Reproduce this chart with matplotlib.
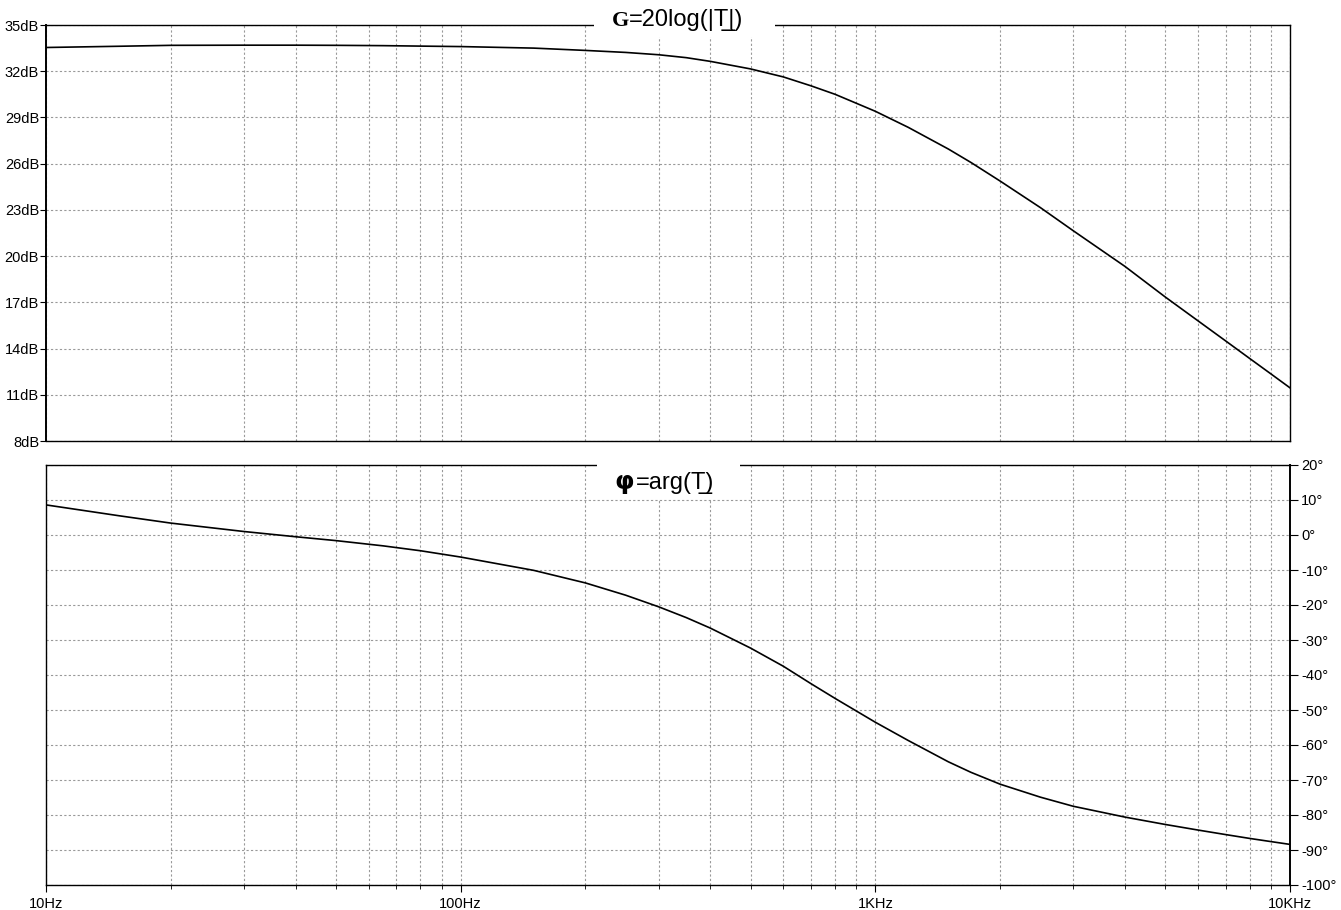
import matplotlib
matplotlib.use('Agg')
import matplotlib.pyplot as plt
from matplotlib.patches import Rectangle
from matplotlib.ticker import FixedLocator, NullFormatter, LogLocator

# data
freq = [10, 15, 20, 30, 40, 50, 65, 80, 100, 150, 200, 250, 300, 350, 400, 500, 600, 700, 800,
        1000, 1200, 1500, 1700, 2000, 2500, 3000, 4000, 5000, 6000, 7000, 8000, 9000, 10000]
gain_db = [33.54, 33.62, 33.68, 33.69, 33.69, 33.68, 33.66, 33.63, 33.6, 33.5, 33.35, 33.22,
           33.07, 32.88, 32.64, 32.15, 31.63, 31.05, 30.5, 29.4, 28.36, 26.95, 26.08, 24.87,
           23.15, 21.65, 19.33, 17.35, 15.8, 14.49, 13.35, 12.35, 11.45]
phase_deg = [8.6, 5.5, 3.4, 1.0, -0.5, -1.6, -3.1, -4.5, -6.3, -10.1, -13.7, -17.2, -20.5,
             -23.6, -26.6, -32.3, -37.5, -42.5, -46.7, -53.5, -58.7, -64.8, -67.8, -71.2,
             -74.9, -77.5, -80.6, -82.7, -84.3, -85.6, -86.7, -87.6, -88.4]

gain_ticks = [8, 11, 14, 17, 20, 23, 26, 29, 32, 35]
gain_labels = ['%ddB' % v for v in gain_ticks]
phase_ticks = [20, 10, 0, -10, -20, -30, -40, -50, -60, -70, -80, -90, -100]
phase_labels = ['%d\u00b0' % v for v in phase_ticks]
freq_ticks = [10, 100, 1000, 10000]
freq_labels = ['10Hz', '100Hz', '1KHz', '10KHz']

plt.rcParams['font.family'] = ['Liberation Sans', 'DejaVu Sans']

fig = plt.figure(figsize=(13.41, 9.10), dpi=100)
ax1 = fig.add_axes([46 / 1341, 1 - 441 / 910, 1244 / 1341, 416 / 910])
ax2 = fig.add_axes([46 / 1341, 1 - 885 / 910, 1244 / 1341, 420 / 910])

grid_kw = dict(color='#999999', linestyle=(0, (2, 2)), linewidth=0.8)

for ax in (ax1, ax2):
    ax.set_xscale('log')
    ax.set_xlim(10, 10000)
    ax.xaxis.set_major_locator(FixedLocator(freq_ticks))
    ax.xaxis.set_minor_locator(LogLocator(base=10, subs=range(2, 10)))
    ax.xaxis.set_minor_formatter(NullFormatter())
    ax.grid(True, which='both', axis='x', **grid_kw)
    ax.grid(True, which='major', axis='y', **grid_kw)
    ax.set_axisbelow(True)
    for s in ax.spines.values():
        s.set_linewidth(1.0)
        s.set_color('black')

# gain panel
ax1.plot(freq, gain_db, color='black', lw=1.2, zorder=3)
ax1.set_ylim(8, 35)
ax1.set_yticks(gain_ticks)
ax1.set_yticklabels(gain_labels)
ax1.spines['left'].set_linewidth(1.4)
ax1.tick_params(axis='y', direction='out', length=4, pad=1, labelsize=10.5)
ax1.tick_params(axis='x', which='both', length=0, labelbottom=False)

ax1.add_patch(Rectangle((0.4405, 0.97), 0.1455, 0.06, transform=ax1.transAxes,
                        facecolor='white', edgecolor='none', clip_on=False, zorder=4))
t = ax1.text(0.455, 0.997, 'G', transform=ax1.transAxes, ha='left', va='baseline',
             fontsize=16, fontweight='bold', family='Liberation Serif', zorder=5, clip_on=False)
ax1.annotate('=20log(|T\u0332|)', xy=(1, 0), xycoords=t, xytext=(0, 0),
             textcoords='offset points', ha='left', va='bottom', fontsize=17, zorder=5,
             annotation_clip=False)

# phase panel
ax2.plot(freq, phase_deg, color='black', lw=1.2, zorder=3)
ax2.set_ylim(-100, 20)
ax2.set_yticks(phase_ticks)
ax2.set_yticklabels(phase_labels)
ax2.yaxis.tick_right()
ax2.spines['right'].set_linewidth(1.4)
ax2.tick_params(axis='y', direction='out', length=6, pad=2, labelsize=10.5)
ax2.set_xticklabels(freq_labels)
ax2.tick_params(axis='x', which='major', direction='out', length=5, pad=4, labelsize=10.5)
ax2.tick_params(axis='x', which='minor', direction='out', length=3)

ax2.add_patch(Rectangle((0.443, 0.92), 0.115, 0.1, transform=ax2.transAxes,
                        facecolor='white', edgecolor='none', clip_on=False, zorder=4))
t2 = ax2.text(0.457, 0.943, '\u03c6', transform=ax2.transAxes, ha='left', va='baseline',
              fontsize=18, fontweight='bold', family='DejaVu Sans', zorder=5, clip_on=False)
ax2.annotate('=arg(T\u0332)', xy=(1, 0), xycoords=t2, xytext=(1, 0),
             textcoords='offset points', ha='left', va='bottom', fontsize=17, zorder=5,
             annotation_clip=False)

fig.savefig('out.png', dpi=100, facecolor='white')
